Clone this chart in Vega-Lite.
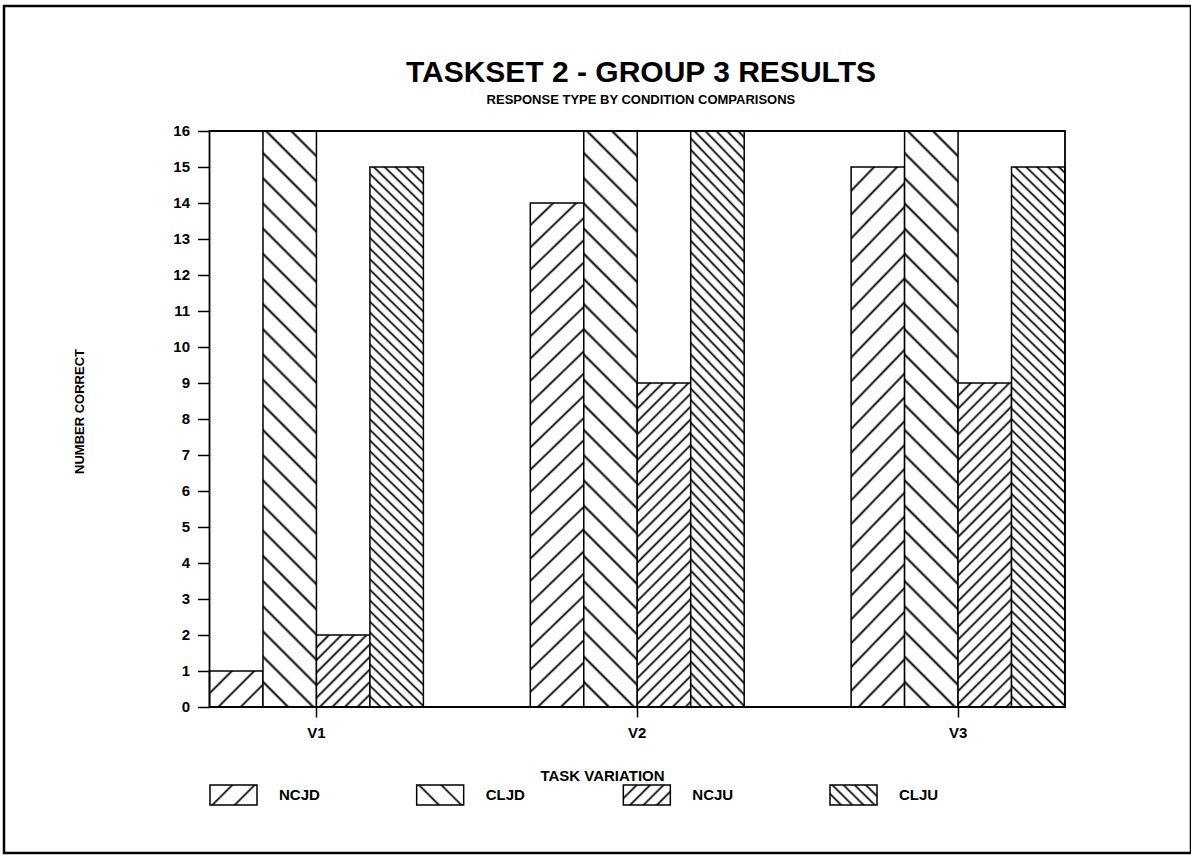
{
"$schema":"https://vega.github.io/schema/vega-lite/v6.json",
"width":1187,"height":847,
"autosize":{"type":"none"},
"padding":{"left":4,"top":6,"right":0,"bottom":2},
"background":"#fff",
"config":{"view":{"stroke":"#000","strokeWidth":2.5},"font":"Liberation Sans"},
"resolve":{"scale":{"x":"independent"},"axis":{"y":"independent"}},
"layer":[
{
"data":{"values":[
{"task":"V1","series":"NCJD","value":1},
{"task":"V1","series":"CLJD","value":16},
{"task":"V1","series":"NCJU","value":2},
{"task":"V1","series":"CLJU","value":15},
{"task":"V2","series":"NCJD","value":14},
{"task":"V2","series":"CLJD","value":16},
{"task":"V2","series":"NCJU","value":9},
{"task":"V2","series":"CLJU","value":16},
{"task":"V3","series":"NCJD","value":15},
{"task":"V3","series":"CLJD","value":16},
{"task":"V3","series":"NCJU","value":9},
{"task":"V3","series":"CLJU","value":15}]},
"encoding":{
"x":{"field":"task","type":"nominal","scale":{"domain":["V1","V2","V3"],"paddingInner":0.3333,"paddingOuter":0.5167,"align":0.6199},
"axis":{"orient":"bottom","offset":-146,"domain":false,"grid":false,"tickSize":10,"tickWidth":1.5,"tickColor":"#000","labelAngle":0,"labelFont":"Liberation Sans","labelFontSize":15,"labelFontWeight":"bold","labelColor":"#000","labelPadding":8,"title":"TASK VARIATION","titleFont":"Liberation Sans","titleFontSize":15,"titleFontWeight":"bold","titleColor":"#000","titleX":598,"titleY":73,"titleAlign":"center","titleBaseline":"alphabetic"}},
"xOffset":{"field":"series","type":"nominal","scale":{"domain":["NCJD","CLJD","NCJU","CLJU"],"paddingInner":0,"paddingOuter":0}},
"y":{"field":"value","type":"quantitative","scale":{"domain":[-4.0556,19.4722],"nice":false,"zero":false},
"axis":{"orient":"left","values":[0,1,2,3,4,5,6,7,8,9,10,11,12,13,14,15,16],"offset":-205.5,"domain":false,"grid":false,"tickSize":12,"tickWidth":1.5,"tickColor":"#000","labelFont":"Liberation Sans","labelFontSize":15,"labelFontWeight":"bold","labelColor":"#000","labelPadding":8,"labelOverlap":false,"title":"NUMBER CORRECT","titleFont":"Liberation Sans","titleFontSize":13,"titleFontWeight":"bold","titleColor":"#000","titleAngle":270,"titleAlign":"center","titleBaseline":"middle","titleX":-130.5,"titleY":405}},
"y2":{"datum":0}
},
"layer":[
{"transform":[{"filter":"datum.series=='NCJD' && datum.task=='V1'"}],
"mark":{"type":"bar","stroke":"#000","strokeWidth":1.5,"fill":{"gradient":"linear","x1":0,"y1":0,"x2":1.1516,"y2":0.7749,"stops":[
{"offset":0,"color":"#fff"},
{"offset":0.222,"color":"#fff"},{"offset":0.25,"color":"#000"},{"offset":0.278,"color":"#fff"},
{"offset":0.472,"color":"#fff"},{"offset":0.5,"color":"#000"},{"offset":0.528,"color":"#fff"},
{"offset":0.722,"color":"#fff"},{"offset":0.75,"color":"#000"},{"offset":0.778,"color":"#fff"},
{"offset":1,"color":"#fff"}]}}},
{"transform":[{"filter":"datum.series=='NCJD' && datum.task!='V1'"}],
"mark":{"type":"bar","stroke":"#000","strokeWidth":1.5,"fill":{"gradient":"linear","x1":0,"y1":0,"x2":0.1118,"y2":1.091,"stops":[
{"offset":0,"color":"#fff"},
{"offset":0.0355,"color":"#fff"},{"offset":0.04,"color":"#000"},{"offset":0.0445,"color":"#fff"},
{"offset":0.0755,"color":"#fff"},{"offset":0.08,"color":"#000"},{"offset":0.0845,"color":"#fff"},
{"offset":0.1155,"color":"#fff"},{"offset":0.12,"color":"#000"},{"offset":0.1245,"color":"#fff"},
{"offset":0.1555,"color":"#fff"},{"offset":0.16,"color":"#000"},{"offset":0.1645,"color":"#fff"},
{"offset":0.1955,"color":"#fff"},{"offset":0.2,"color":"#000"},{"offset":0.2045,"color":"#fff"},
{"offset":0.2355,"color":"#fff"},{"offset":0.24,"color":"#000"},{"offset":0.2445,"color":"#fff"},
{"offset":0.2755,"color":"#fff"},{"offset":0.28,"color":"#000"},{"offset":0.2845,"color":"#fff"},
{"offset":0.3155,"color":"#fff"},{"offset":0.32,"color":"#000"},{"offset":0.3245,"color":"#fff"},
{"offset":0.3555,"color":"#fff"},{"offset":0.36,"color":"#000"},{"offset":0.3645,"color":"#fff"},
{"offset":0.3955,"color":"#fff"},{"offset":0.4,"color":"#000"},{"offset":0.4045,"color":"#fff"},
{"offset":0.4355,"color":"#fff"},{"offset":0.44,"color":"#000"},{"offset":0.4445,"color":"#fff"},
{"offset":0.4755,"color":"#fff"},{"offset":0.48,"color":"#000"},{"offset":0.4845,"color":"#fff"},
{"offset":0.5155,"color":"#fff"},{"offset":0.52,"color":"#000"},{"offset":0.5245,"color":"#fff"},
{"offset":0.5555,"color":"#fff"},{"offset":0.56,"color":"#000"},{"offset":0.5645,"color":"#fff"},
{"offset":0.5955,"color":"#fff"},{"offset":0.6,"color":"#000"},{"offset":0.6045,"color":"#fff"},
{"offset":0.6355,"color":"#fff"},{"offset":0.64,"color":"#000"},{"offset":0.6445,"color":"#fff"},
{"offset":0.6755,"color":"#fff"},{"offset":0.68,"color":"#000"},{"offset":0.6845,"color":"#fff"},
{"offset":0.7155,"color":"#fff"},{"offset":0.72,"color":"#000"},{"offset":0.7245,"color":"#fff"},
{"offset":0.7555,"color":"#fff"},{"offset":0.76,"color":"#000"},{"offset":0.7645,"color":"#fff"},
{"offset":0.7955,"color":"#fff"},{"offset":0.8,"color":"#000"},{"offset":0.8045,"color":"#fff"},
{"offset":0.8355,"color":"#fff"},{"offset":0.84,"color":"#000"},{"offset":0.8445,"color":"#fff"},
{"offset":0.8755,"color":"#fff"},{"offset":0.88,"color":"#000"},{"offset":0.8845,"color":"#fff"},
{"offset":0.9155,"color":"#fff"},{"offset":0.92,"color":"#000"},{"offset":0.9245,"color":"#fff"},
{"offset":0.9555,"color":"#fff"},{"offset":0.96,"color":"#000"},{"offset":0.9645,"color":"#fff"},
{"offset":1,"color":"#fff"}]}}},
{"transform":[{"filter":"datum.series=='CLJD'"}],
"mark":{"type":"bar","stroke":"#000","strokeWidth":1.5,"fill":{"gradient":"linear","x1":0,"y1":1,"x2":0.1006,"y2":-0.0835,"stops":[
{"offset":0,"color":"#fff"},
{"offset":0.0355,"color":"#fff"},{"offset":0.04,"color":"#000"},{"offset":0.0445,"color":"#fff"},
{"offset":0.0755,"color":"#fff"},{"offset":0.08,"color":"#000"},{"offset":0.0845,"color":"#fff"},
{"offset":0.1155,"color":"#fff"},{"offset":0.12,"color":"#000"},{"offset":0.1245,"color":"#fff"},
{"offset":0.1555,"color":"#fff"},{"offset":0.16,"color":"#000"},{"offset":0.1645,"color":"#fff"},
{"offset":0.1955,"color":"#fff"},{"offset":0.2,"color":"#000"},{"offset":0.2045,"color":"#fff"},
{"offset":0.2355,"color":"#fff"},{"offset":0.24,"color":"#000"},{"offset":0.2445,"color":"#fff"},
{"offset":0.2755,"color":"#fff"},{"offset":0.28,"color":"#000"},{"offset":0.2845,"color":"#fff"},
{"offset":0.3155,"color":"#fff"},{"offset":0.32,"color":"#000"},{"offset":0.3245,"color":"#fff"},
{"offset":0.3555,"color":"#fff"},{"offset":0.36,"color":"#000"},{"offset":0.3645,"color":"#fff"},
{"offset":0.3955,"color":"#fff"},{"offset":0.4,"color":"#000"},{"offset":0.4045,"color":"#fff"},
{"offset":0.4355,"color":"#fff"},{"offset":0.44,"color":"#000"},{"offset":0.4445,"color":"#fff"},
{"offset":0.4755,"color":"#fff"},{"offset":0.48,"color":"#000"},{"offset":0.4845,"color":"#fff"},
{"offset":0.5155,"color":"#fff"},{"offset":0.52,"color":"#000"},{"offset":0.5245,"color":"#fff"},
{"offset":0.5555,"color":"#fff"},{"offset":0.56,"color":"#000"},{"offset":0.5645,"color":"#fff"},
{"offset":0.5955,"color":"#fff"},{"offset":0.6,"color":"#000"},{"offset":0.6045,"color":"#fff"},
{"offset":0.6355,"color":"#fff"},{"offset":0.64,"color":"#000"},{"offset":0.6445,"color":"#fff"},
{"offset":0.6755,"color":"#fff"},{"offset":0.68,"color":"#000"},{"offset":0.6845,"color":"#fff"},
{"offset":0.7155,"color":"#fff"},{"offset":0.72,"color":"#000"},{"offset":0.7245,"color":"#fff"},
{"offset":0.7555,"color":"#fff"},{"offset":0.76,"color":"#000"},{"offset":0.7645,"color":"#fff"},
{"offset":0.7955,"color":"#fff"},{"offset":0.8,"color":"#000"},{"offset":0.8045,"color":"#fff"},
{"offset":0.8355,"color":"#fff"},{"offset":0.84,"color":"#000"},{"offset":0.8445,"color":"#fff"},
{"offset":0.8755,"color":"#fff"},{"offset":0.88,"color":"#000"},{"offset":0.8845,"color":"#fff"},
{"offset":0.9155,"color":"#fff"},{"offset":0.92,"color":"#000"},{"offset":0.9245,"color":"#fff"},
{"offset":0.9555,"color":"#fff"},{"offset":0.96,"color":"#000"},{"offset":0.9645,"color":"#fff"},
{"offset":1,"color":"#fff"}]}}},
{"transform":[{"filter":"datum.series=='NCJU' && datum.task=='V1'"}],
"mark":{"type":"bar","stroke":"#000","strokeWidth":1.5,"fill":{"gradient":"linear","x1":0,"y1":0,"x2":0.8345,"y2":1.123,"stops":[
{"offset":0,"color":"#fff"},
{"offset":0.08,"color":"#fff"},{"offset":0.1,"color":"#000"},{"offset":0.12,"color":"#fff"},
{"offset":0.18,"color":"#fff"},{"offset":0.2,"color":"#000"},{"offset":0.22,"color":"#fff"},
{"offset":0.28,"color":"#fff"},{"offset":0.3,"color":"#000"},{"offset":0.32,"color":"#fff"},
{"offset":0.38,"color":"#fff"},{"offset":0.4,"color":"#000"},{"offset":0.42,"color":"#fff"},
{"offset":0.48,"color":"#fff"},{"offset":0.5,"color":"#000"},{"offset":0.52,"color":"#fff"},
{"offset":0.58,"color":"#fff"},{"offset":0.6,"color":"#000"},{"offset":0.62,"color":"#fff"},
{"offset":0.68,"color":"#fff"},{"offset":0.7,"color":"#000"},{"offset":0.72,"color":"#fff"},
{"offset":0.78,"color":"#fff"},{"offset":0.8,"color":"#000"},{"offset":0.82,"color":"#fff"},
{"offset":0.88,"color":"#fff"},{"offset":0.9,"color":"#000"},{"offset":0.92,"color":"#fff"},
{"offset":1,"color":"#fff"}]}}},
{"transform":[{"filter":"datum.series=='NCJU' && datum.task!='V1'"}],
"mark":{"type":"bar","stroke":"#000","strokeWidth":1.5,"fill":{"gradient":"linear","x1":0,"y1":0,"x2":0.1873,"y2":1.1342,"stops":[
{"offset":0,"color":"#fff"},
{"offset":0.0275,"color":"#fff"},{"offset":0.034,"color":"#000"},{"offset":0.0405,"color":"#fff"},
{"offset":0.0615,"color":"#fff"},{"offset":0.068,"color":"#000"},{"offset":0.0745,"color":"#fff"},
{"offset":0.0955,"color":"#fff"},{"offset":0.102,"color":"#000"},{"offset":0.1085,"color":"#fff"},
{"offset":0.1295,"color":"#fff"},{"offset":0.136,"color":"#000"},{"offset":0.1425,"color":"#fff"},
{"offset":0.1635,"color":"#fff"},{"offset":0.17,"color":"#000"},{"offset":0.1765,"color":"#fff"},
{"offset":0.1975,"color":"#fff"},{"offset":0.204,"color":"#000"},{"offset":0.2105,"color":"#fff"},
{"offset":0.2315,"color":"#fff"},{"offset":0.238,"color":"#000"},{"offset":0.2445,"color":"#fff"},
{"offset":0.2655,"color":"#fff"},{"offset":0.272,"color":"#000"},{"offset":0.2785,"color":"#fff"},
{"offset":0.2995,"color":"#fff"},{"offset":0.306,"color":"#000"},{"offset":0.3125,"color":"#fff"},
{"offset":0.3335,"color":"#fff"},{"offset":0.34,"color":"#000"},{"offset":0.3465,"color":"#fff"},
{"offset":0.3675,"color":"#fff"},{"offset":0.374,"color":"#000"},{"offset":0.3805,"color":"#fff"},
{"offset":0.4015,"color":"#fff"},{"offset":0.408,"color":"#000"},{"offset":0.4145,"color":"#fff"},
{"offset":0.4355,"color":"#fff"},{"offset":0.442,"color":"#000"},{"offset":0.4485,"color":"#fff"},
{"offset":0.4695,"color":"#fff"},{"offset":0.476,"color":"#000"},{"offset":0.4825,"color":"#fff"},
{"offset":0.5035,"color":"#fff"},{"offset":0.51,"color":"#000"},{"offset":0.5165,"color":"#fff"},
{"offset":0.5375,"color":"#fff"},{"offset":0.544,"color":"#000"},{"offset":0.5505,"color":"#fff"},
{"offset":0.5715,"color":"#fff"},{"offset":0.578,"color":"#000"},{"offset":0.5845,"color":"#fff"},
{"offset":0.6055,"color":"#fff"},{"offset":0.612,"color":"#000"},{"offset":0.6185,"color":"#fff"},
{"offset":0.6395,"color":"#fff"},{"offset":0.646,"color":"#000"},{"offset":0.6525,"color":"#fff"},
{"offset":0.6735,"color":"#fff"},{"offset":0.68,"color":"#000"},{"offset":0.6865,"color":"#fff"},
{"offset":0.7075,"color":"#fff"},{"offset":0.714,"color":"#000"},{"offset":0.7205,"color":"#fff"},
{"offset":0.7415,"color":"#fff"},{"offset":0.748,"color":"#000"},{"offset":0.7545,"color":"#fff"},
{"offset":0.7755,"color":"#fff"},{"offset":0.782,"color":"#000"},{"offset":0.7885,"color":"#fff"},
{"offset":0.8095,"color":"#fff"},{"offset":0.816,"color":"#000"},{"offset":0.8225,"color":"#fff"},
{"offset":0.8435,"color":"#fff"},{"offset":0.85,"color":"#000"},{"offset":0.8565,"color":"#fff"},
{"offset":0.8775,"color":"#fff"},{"offset":0.884,"color":"#000"},{"offset":0.8905,"color":"#fff"},
{"offset":0.9115,"color":"#fff"},{"offset":0.918,"color":"#000"},{"offset":0.9245,"color":"#fff"},
{"offset":0.9455,"color":"#fff"},{"offset":0.952,"color":"#000"},{"offset":0.9585,"color":"#fff"},
{"offset":0.9795,"color":"#fff"},{"offset":0.986,"color":"#000"},{"offset":0.9925,"color":"#fff"},
{"offset":1,"color":"#fff"}]}}},
{"transform":[{"filter":"datum.series=='CLJU'"}],
"mark":{"type":"bar","stroke":"#000","strokeWidth":1.5,"fill":{"gradient":"linear","x1":0,"y1":1,"x2":0.1053,"y2":-0.0867,"stops":[
{"offset":0,"color":"#fff"},
{"offset":0.014,"color":"#fff"},{"offset":0.018,"color":"#000"},{"offset":0.022,"color":"#fff"},
{"offset":0.032,"color":"#fff"},{"offset":0.036,"color":"#000"},{"offset":0.04,"color":"#fff"},
{"offset":0.05,"color":"#fff"},{"offset":0.054,"color":"#000"},{"offset":0.058,"color":"#fff"},
{"offset":0.068,"color":"#fff"},{"offset":0.072,"color":"#000"},{"offset":0.076,"color":"#fff"},
{"offset":0.086,"color":"#fff"},{"offset":0.09,"color":"#000"},{"offset":0.094,"color":"#fff"},
{"offset":0.104,"color":"#fff"},{"offset":0.108,"color":"#000"},{"offset":0.112,"color":"#fff"},
{"offset":0.122,"color":"#fff"},{"offset":0.126,"color":"#000"},{"offset":0.13,"color":"#fff"},
{"offset":0.14,"color":"#fff"},{"offset":0.144,"color":"#000"},{"offset":0.148,"color":"#fff"},
{"offset":0.158,"color":"#fff"},{"offset":0.162,"color":"#000"},{"offset":0.166,"color":"#fff"},
{"offset":0.176,"color":"#fff"},{"offset":0.18,"color":"#000"},{"offset":0.184,"color":"#fff"},
{"offset":0.194,"color":"#fff"},{"offset":0.198,"color":"#000"},{"offset":0.202,"color":"#fff"},
{"offset":0.212,"color":"#fff"},{"offset":0.216,"color":"#000"},{"offset":0.22,"color":"#fff"},
{"offset":0.23,"color":"#fff"},{"offset":0.234,"color":"#000"},{"offset":0.238,"color":"#fff"},
{"offset":0.248,"color":"#fff"},{"offset":0.252,"color":"#000"},{"offset":0.256,"color":"#fff"},
{"offset":0.266,"color":"#fff"},{"offset":0.27,"color":"#000"},{"offset":0.274,"color":"#fff"},
{"offset":0.284,"color":"#fff"},{"offset":0.288,"color":"#000"},{"offset":0.292,"color":"#fff"},
{"offset":0.302,"color":"#fff"},{"offset":0.306,"color":"#000"},{"offset":0.31,"color":"#fff"},
{"offset":0.32,"color":"#fff"},{"offset":0.324,"color":"#000"},{"offset":0.328,"color":"#fff"},
{"offset":0.338,"color":"#fff"},{"offset":0.342,"color":"#000"},{"offset":0.346,"color":"#fff"},
{"offset":0.356,"color":"#fff"},{"offset":0.36,"color":"#000"},{"offset":0.364,"color":"#fff"},
{"offset":0.374,"color":"#fff"},{"offset":0.378,"color":"#000"},{"offset":0.382,"color":"#fff"},
{"offset":0.392,"color":"#fff"},{"offset":0.396,"color":"#000"},{"offset":0.4,"color":"#fff"},
{"offset":0.41,"color":"#fff"},{"offset":0.414,"color":"#000"},{"offset":0.418,"color":"#fff"},
{"offset":0.428,"color":"#fff"},{"offset":0.432,"color":"#000"},{"offset":0.436,"color":"#fff"},
{"offset":0.446,"color":"#fff"},{"offset":0.45,"color":"#000"},{"offset":0.454,"color":"#fff"},
{"offset":0.464,"color":"#fff"},{"offset":0.468,"color":"#000"},{"offset":0.472,"color":"#fff"},
{"offset":0.482,"color":"#fff"},{"offset":0.486,"color":"#000"},{"offset":0.49,"color":"#fff"},
{"offset":0.5,"color":"#fff"},{"offset":0.504,"color":"#000"},{"offset":0.508,"color":"#fff"},
{"offset":0.518,"color":"#fff"},{"offset":0.522,"color":"#000"},{"offset":0.526,"color":"#fff"},
{"offset":0.536,"color":"#fff"},{"offset":0.54,"color":"#000"},{"offset":0.544,"color":"#fff"},
{"offset":0.554,"color":"#fff"},{"offset":0.558,"color":"#000"},{"offset":0.562,"color":"#fff"},
{"offset":0.572,"color":"#fff"},{"offset":0.576,"color":"#000"},{"offset":0.58,"color":"#fff"},
{"offset":0.59,"color":"#fff"},{"offset":0.594,"color":"#000"},{"offset":0.598,"color":"#fff"},
{"offset":0.608,"color":"#fff"},{"offset":0.612,"color":"#000"},{"offset":0.616,"color":"#fff"},
{"offset":0.626,"color":"#fff"},{"offset":0.63,"color":"#000"},{"offset":0.634,"color":"#fff"},
{"offset":0.644,"color":"#fff"},{"offset":0.648,"color":"#000"},{"offset":0.652,"color":"#fff"},
{"offset":0.662,"color":"#fff"},{"offset":0.666,"color":"#000"},{"offset":0.67,"color":"#fff"},
{"offset":0.68,"color":"#fff"},{"offset":0.684,"color":"#000"},{"offset":0.688,"color":"#fff"},
{"offset":0.698,"color":"#fff"},{"offset":0.702,"color":"#000"},{"offset":0.706,"color":"#fff"},
{"offset":0.716,"color":"#fff"},{"offset":0.72,"color":"#000"},{"offset":0.724,"color":"#fff"},
{"offset":0.734,"color":"#fff"},{"offset":0.738,"color":"#000"},{"offset":0.742,"color":"#fff"},
{"offset":0.752,"color":"#fff"},{"offset":0.756,"color":"#000"},{"offset":0.76,"color":"#fff"},
{"offset":0.77,"color":"#fff"},{"offset":0.774,"color":"#000"},{"offset":0.778,"color":"#fff"},
{"offset":0.788,"color":"#fff"},{"offset":0.792,"color":"#000"},{"offset":0.796,"color":"#fff"},
{"offset":0.806,"color":"#fff"},{"offset":0.81,"color":"#000"},{"offset":0.814,"color":"#fff"},
{"offset":0.824,"color":"#fff"},{"offset":0.828,"color":"#000"},{"offset":0.832,"color":"#fff"},
{"offset":0.842,"color":"#fff"},{"offset":0.846,"color":"#000"},{"offset":0.85,"color":"#fff"},
{"offset":0.86,"color":"#fff"},{"offset":0.864,"color":"#000"},{"offset":0.868,"color":"#fff"},
{"offset":0.878,"color":"#fff"},{"offset":0.882,"color":"#000"},{"offset":0.886,"color":"#fff"},
{"offset":0.896,"color":"#fff"},{"offset":0.9,"color":"#000"},{"offset":0.904,"color":"#fff"},
{"offset":0.914,"color":"#fff"},{"offset":0.918,"color":"#000"},{"offset":0.922,"color":"#fff"},
{"offset":0.932,"color":"#fff"},{"offset":0.936,"color":"#000"},{"offset":0.94,"color":"#fff"},
{"offset":0.95,"color":"#fff"},{"offset":0.954,"color":"#000"},{"offset":0.958,"color":"#fff"},
{"offset":0.968,"color":"#fff"},{"offset":0.972,"color":"#000"},{"offset":0.976,"color":"#fff"},
{"offset":0.986,"color":"#fff"},{"offset":0.99,"color":"#000"},{"offset":0.994,"color":"#fff"},
{"offset":1,"color":"#fff"}]}}}
]
},
{
"data":{"values":[{}]},
"mark":{"type":"rect","fill":"#fff","fillOpacity":0,"stroke":"#000","strokeWidth":1.8},
"encoding":{
"x":{"datum":"V1","type":"nominal","bandPosition":0,"scale":{"domain":["V1","V2","V3"],"paddingInner":0.3333,"paddingOuter":0.5167,"align":0.6199},"axis":null},
"x2":{"datum":"V3","bandPosition":1},
"y":{"datum":0,"type":"quantitative","axis":null},
"y2":{"datum":16}}
},
{
"data":{"values":[{}]},
"mark":{"type":"text","text":"TASKSET 2 - GROUP 3 RESULTS","fontSize":30,"fontWeight":"bold","align":"center","baseline":"alphabetic","dx":-4,"color":"#000"},
"encoding":{
"x":{"datum":"V2","type":"nominal","bandPosition":0.5,"scale":{"domain":["V1","V2","V3"],"paddingInner":0.3333,"paddingOuter":0.5167,"align":0.6199},"axis":null},
"y":{"datum":17.36,"type":"quantitative","axis":null}}
},
{
"data":{"values":[{}]},
"mark":{"type":"text","text":"RESPONSE TYPE BY CONDITION COMPARISONS","fontSize":13,"fontWeight":"bold","align":"center","baseline":"alphabetic","dx":-4,"color":"#000"},
"encoding":{
"x":{"datum":"V2","type":"nominal","bandPosition":0.5,"scale":{"domain":["V1","V2","V3"],"paddingInner":0.3333,"paddingOuter":0.5167,"align":0.6199},"axis":null},
"y":{"datum":16.75,"type":"quantitative","axis":null}}
},
{
"data":{"values":[{"series":"NCJD"},{"series":"CLJD"},{"series":"NCJU"},{"series":"CLJU"}]},
"encoding":{"x":{"field":"series","type":"nominal","scale":{"domain":["NCJD","CLJD","NCJU","CLJU"],"range":[206,873],"paddingInner":0.7726,"paddingOuter":0},"axis":null}},
"layer":[
{"transform":[{"filter":"datum.series=='NCJD'"}],
"mark":{"type":"bar","stroke":"#000","strokeWidth":1.5,"fill":{"gradient":"linear","x1":0,"y1":0,"x2":1.207,"y2":0.5136,"stops":[
{"offset":0,"color":"#fff"},
{"offset":0.297,"color":"#fff"},{"offset":0.333,"color":"#000"},{"offset":0.369,"color":"#fff"},
{"offset":0.631,"color":"#fff"},{"offset":0.667,"color":"#000"},{"offset":0.703,"color":"#fff"},
{"offset":1,"color":"#fff"}]}},
"encoding":{"y":{"datum":-2.1667,"type":"quantitative","axis":null},"y2":{"datum":-2.7222}}},
{"transform":[{"filter":"datum.series=='CLJD'"}],
"mark":{"type":"bar","stroke":"#000","strokeWidth":1.5,"fill":{"gradient":"linear","x1":0,"y1":1,"x2":1.207,"y2":0.4864,"stops":[
{"offset":0,"color":"#fff"},
{"offset":0.297,"color":"#fff"},{"offset":0.333,"color":"#000"},{"offset":0.369,"color":"#fff"},
{"offset":0.631,"color":"#fff"},{"offset":0.667,"color":"#000"},{"offset":0.703,"color":"#fff"},
{"offset":1,"color":"#fff"}]}},
"encoding":{"y":{"datum":-2.1667,"type":"quantitative","axis":null},"y2":{"datum":-2.7222}}},
{"transform":[{"filter":"datum.series=='NCJU'"}],
"mark":{"type":"bar","stroke":"#000","strokeWidth":1.5,"fill":{"gradient":"linear","x1":0,"y1":0,"x2":1.207,"y2":0.5136,"stops":[
{"offset":0,"color":"#fff"},
{"offset":0.164,"color":"#fff"},{"offset":0.2,"color":"#000"},{"offset":0.236,"color":"#fff"},
{"offset":0.364,"color":"#fff"},{"offset":0.4,"color":"#000"},{"offset":0.436,"color":"#fff"},
{"offset":0.564,"color":"#fff"},{"offset":0.6,"color":"#000"},{"offset":0.636,"color":"#fff"},
{"offset":0.764,"color":"#fff"},{"offset":0.8,"color":"#000"},{"offset":0.836,"color":"#fff"},
{"offset":1,"color":"#fff"}]}},
"encoding":{"y":{"datum":-2.1667,"type":"quantitative","axis":null},"y2":{"datum":-2.7222}}},
{"transform":[{"filter":"datum.series=='CLJU'"}],
"mark":{"type":"bar","stroke":"#000","strokeWidth":1.5,"fill":{"gradient":"linear","x1":0,"y1":1,"x2":1.207,"y2":0.4864,"stops":[
{"offset":0,"color":"#fff"},
{"offset":0.131,"color":"#fff"},{"offset":0.167,"color":"#000"},{"offset":0.203,"color":"#fff"},
{"offset":0.297,"color":"#fff"},{"offset":0.333,"color":"#000"},{"offset":0.369,"color":"#fff"},
{"offset":0.464,"color":"#fff"},{"offset":0.5,"color":"#000"},{"offset":0.536,"color":"#fff"},
{"offset":0.631,"color":"#fff"},{"offset":0.667,"color":"#000"},{"offset":0.703,"color":"#fff"},
{"offset":0.797,"color":"#fff"},{"offset":0.833,"color":"#000"},{"offset":0.869,"color":"#fff"},
{"offset":1,"color":"#fff"}]}},
"encoding":{"y":{"datum":-2.1667,"type":"quantitative","axis":null},"y2":{"datum":-2.7222}}},
{"mark":{"type":"text","align":"left","baseline":"middle","dx":69,"fontSize":15,"fontWeight":"bold","color":"#000"},
"encoding":{"x":{"field":"series","type":"nominal","bandPosition":0},"text":{"field":"series"},"y":{"datum":-2.444,"type":"quantitative","axis":null}}}
]
}
]
}
